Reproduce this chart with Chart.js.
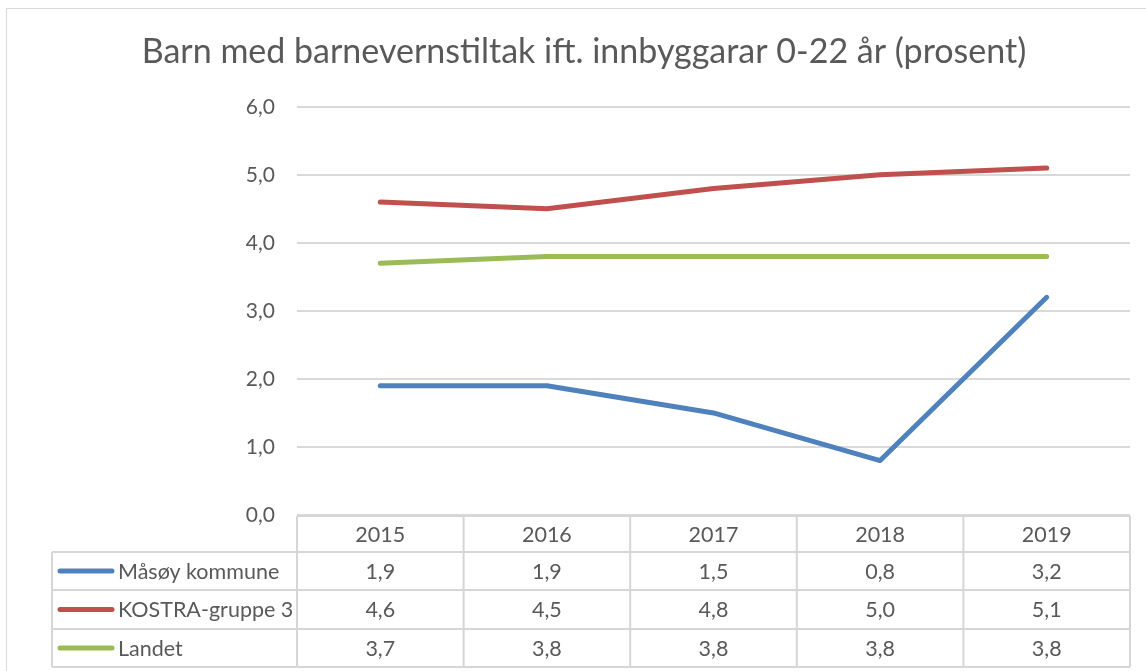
<!DOCTYPE html>
<html><head><meta charset="utf-8">
<script src="https://cdn.jsdelivr.net/npm/chart.js@4/dist/chart.umd.min.js"></script>
<style>html,body{margin:0;padding:0;background:#fff;}#wrap{width:1146px;height:671px;}</style>
</head><body><div id="wrap"><canvas id="c" width="1146" height="671"></canvas></div>
<script>
const titleText = 'Barn med barnevernstiltak ift. innbyggarar 0-22 år (prosent)';
const categories = ['2015', '2016', '2017', '2018', '2019'];
const seriesNames = ['Måsøy kommune', 'KOSTRA-gruppe 3', 'Landet'];
const masoy = [1.9, 1.9, 1.5, 0.8, 3.2];
const kostra = [4.6, 4.5, 4.8, 5.0, 5.1];
const landet = [3.7, 3.8, 3.8, 3.8, 3.8];
const colors = ['#4f81bd', '#c0504d', '#9bbb59'];
const FONT = 'Lato, "Open Sans", sans-serif';
const TXT = '#595959';
const GRID = '#d9d9d9';
const fmt = v => v.toFixed(1).replace('.', ',');

const tablePlugin = {
  id: 'tbl',
  beforeDraw(chart) {
    const ctx = chart.ctx;
    ctx.save();
    ctx.strokeStyle = GRID; ctx.lineWidth = 1;
    ctx.strokeRect(6.5, 8.5, 1200, 700);
    ctx.restore();
  },
  afterDraw(chart) {
    const ctx = chart.ctx, a = chart.chartArea;
    const n = categories.length, colW = (a.right - a.left) / n;
    const rowH = [36, 38, 39, 38];
    const top = a.bottom + 1;
    const ys = [top]; rowH.forEach(h => ys.push(ys[ys.length - 1] + h));
    const legL = 52;
    ctx.save();
    ctx.strokeStyle = '#d6d6d6'; ctx.lineWidth = 2;
    ctx.beginPath();
    ctx.moveTo(a.left, ys[0]); ctx.lineTo(a.right, ys[0]);
    for (let r = 1; r < ys.length; r++) { ctx.moveTo(legL, ys[r]); ctx.lineTo(a.right, ys[r]); }
    for (let i = 0; i <= n; i++) { const x = a.left + i * colW; ctx.moveTo(x, ys[0]); ctx.lineTo(x, ys[4]); }
    ctx.moveTo(legL, ys[1]); ctx.lineTo(legL, ys[4]);
    ctx.stroke();
    ctx.fillStyle = TXT; ctx.font = '21.5px ' + FONT; ctx.textBaseline = 'middle'; ctx.textAlign = 'center';
    const xs = chart.scales.x;
    categories.forEach((c, i) => ctx.fillText(c, xs.getPixelForValue(i), (ys[0] + ys[1]) / 2 + 1));
    const sets = chart.data.datasets;
    sets.forEach((ds, r) => {
      const yc = (ys[r + 1] + ys[r + 2]) / 2 + 1;
      ds.data.forEach((v, i) => { ctx.textAlign = 'center'; ctx.fillText(fmt(v), xs.getPixelForValue(i), yc); });
      ctx.strokeStyle = ds.borderColor; ctx.lineWidth = 5; ctx.lineCap = 'round';
      ctx.beginPath(); ctx.moveTo(60, yc - 1); ctx.lineTo(112, yc - 1); ctx.stroke();
      ctx.textAlign = 'left'; ctx.fillText(ds.label, 118, yc);
    });
    ctx.restore();
  }
};

new Chart(document.getElementById('c'), {
  type: 'line',
  data: {
    labels: categories,
    datasets: [
      { label: seriesNames[0], data: masoy, borderColor: colors[0] },
      { label: seriesNames[1], data: kostra, borderColor: colors[1] },
      { label: seriesNames[2], data: landet, borderColor: colors[2] }
    ].map(d => Object.assign(d, { borderWidth: 5, pointRadius: 0, tension: 0, fill: false, borderCapStyle: 'round', borderJoinStyle: 'round' }))
  },
  options: {
    responsive: false, animation: false,
    layout: { padding: { left: 38, right: 16, top: 0, bottom: 156 } },
    plugins: {
      legend: { display: false }, tooltip: { enabled: false },
      title: { display: true, text: titleText, color: TXT, font: { family: FONT, size: 34, weight: 'normal' }, lineHeight: 1.2, padding: { top: 32, bottom: 34 } }
    },
    scales: {
      x: { type: 'category', offset: true, display: false },
      y: {
        min: 0, max: 6, border: { display: false },
        ticks: { stepSize: 1, color: TXT, font: { family: FONT, size: 21 }, padding: 22, callback: v => fmt(v) },
        grid: { color: GRID, lineWidth: 2, drawTicks: false },
        afterFit: s => { s.width = 259; }
      }
    }
  },
  plugins: [tablePlugin]
});
</script></body></html>
